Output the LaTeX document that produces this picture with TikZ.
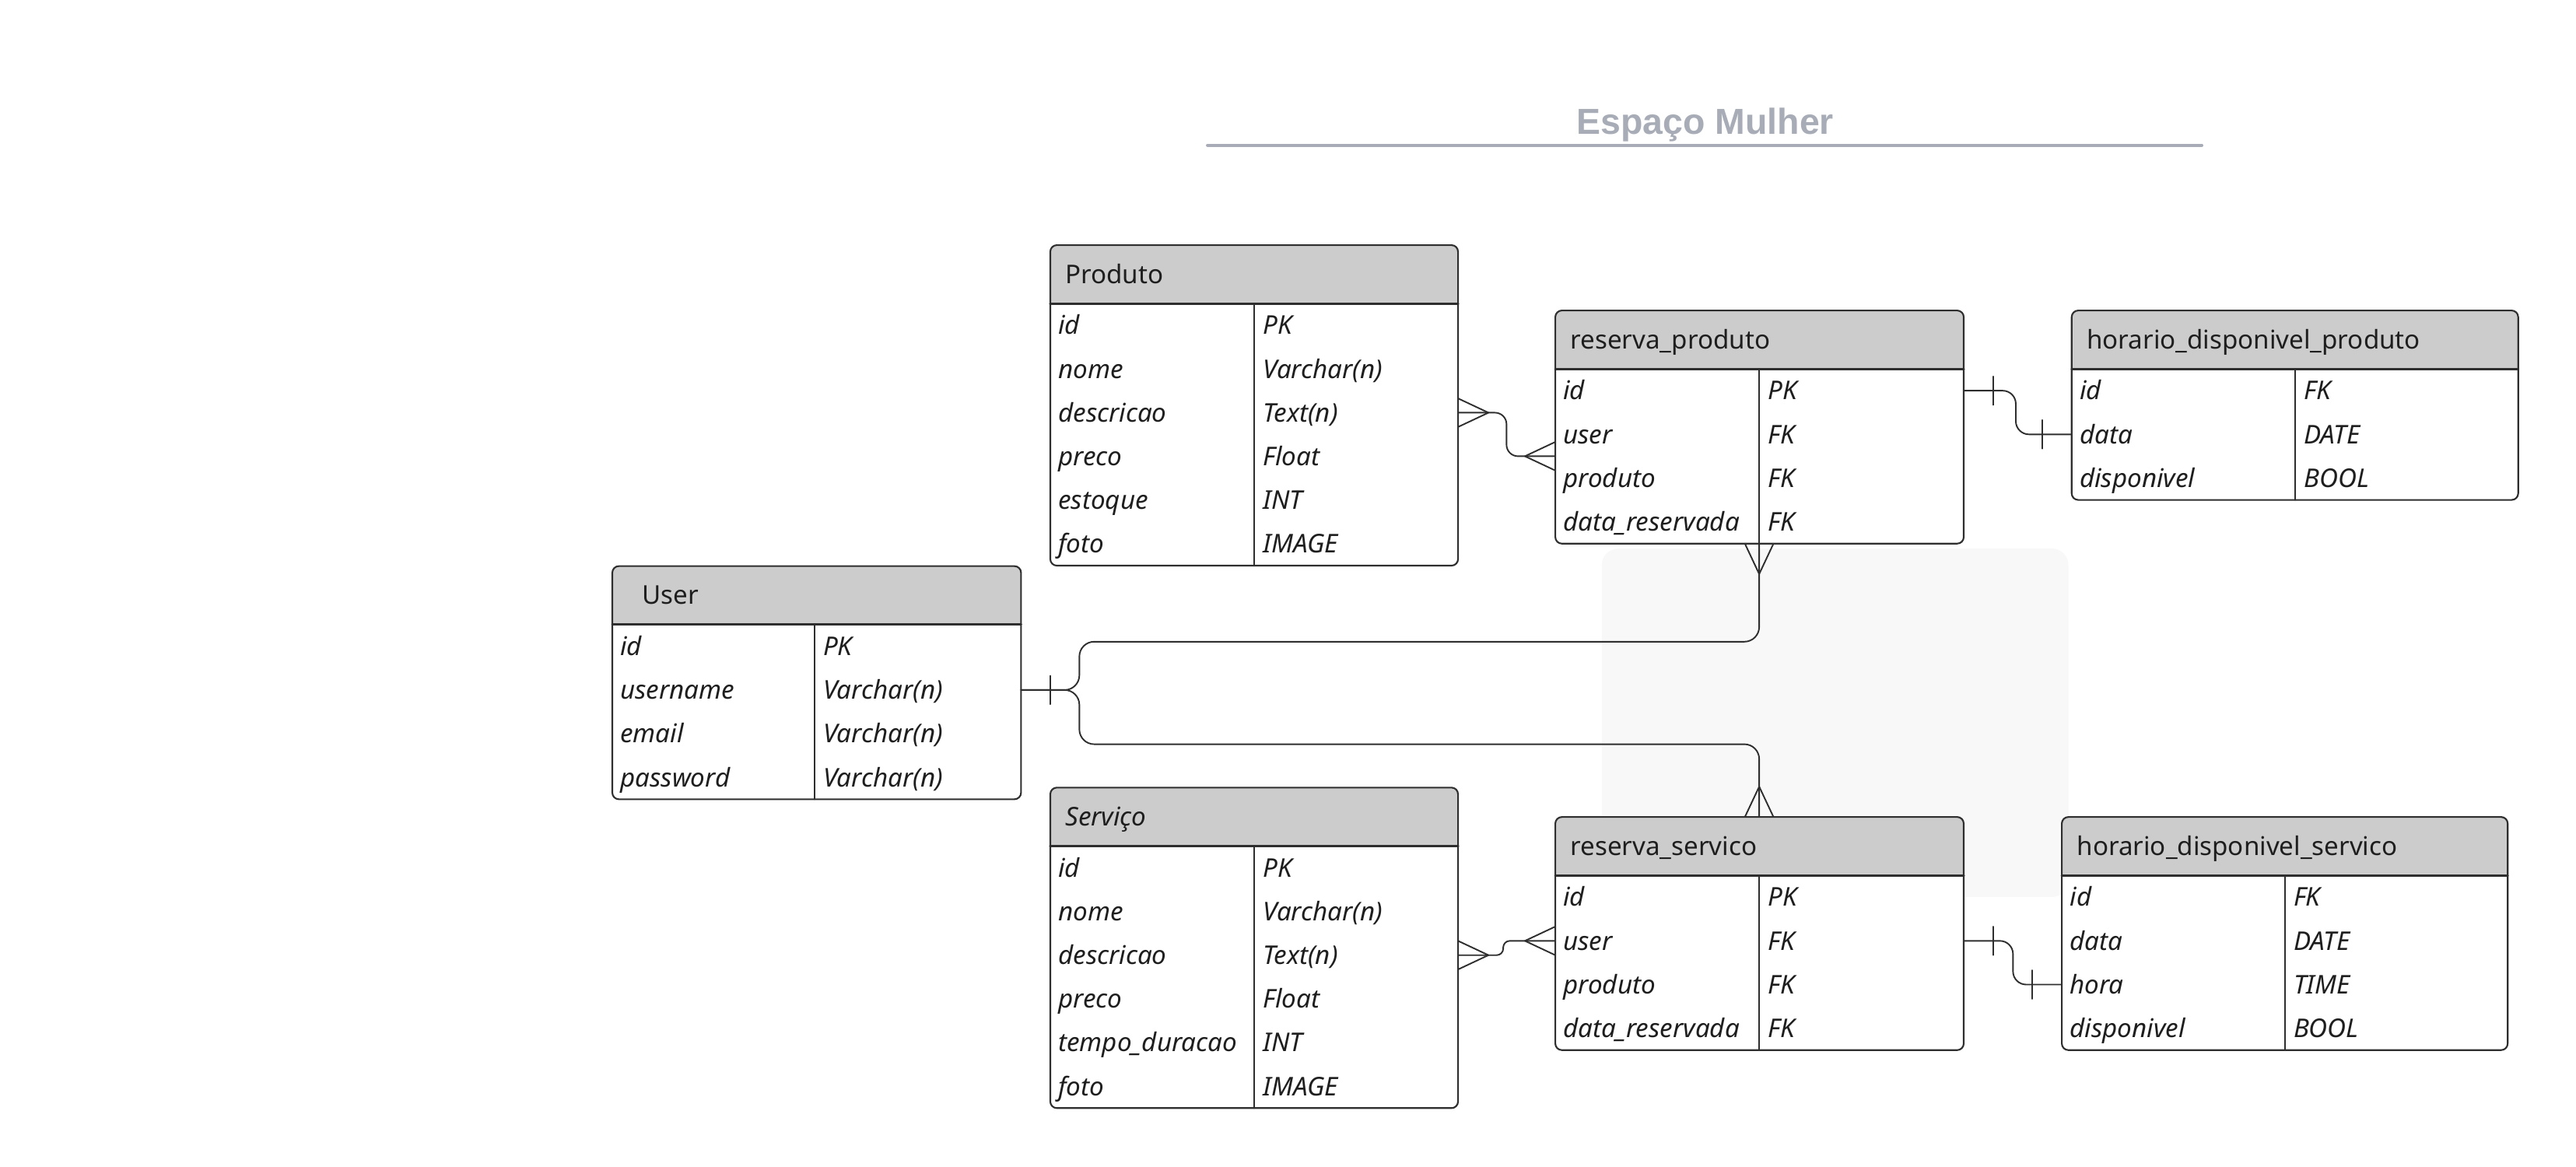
\documentclass[tikz,border=0pt]{standalone}
\usepackage{fontspec}
\setmainfont{Noto Sans}
\newfontfamily\titlefont{Liberation Sans}
\usetikzlibrary{calc}

\definecolor{headgray}{HTML}{CCCCCC}
\definecolor{edgegray}{HTML}{2E2E2E}
\definecolor{titlegray}{HTML}{A7ACB6}
\definecolor{inkgray}{HTML}{1E1E1E}
\definecolor{zonegray}{HTML}{F8F8F8}

% [title indent] name, left, top, right, split, number of rows, title, field/type rows
\newcommand{\ertable}[9][9]{%
  \coordinate (#2-nw) at (#3,#4);
  \coordinate (#2-se) at (#5,#4+\hdh+#7*\rwh);
  \coordinate (#2-st) at (#6,#4);
  \coordinate (#2-sb) at (#6,#4+\hdh+#7*\rwh);
  \fill[white, rounded corners=4] (#2-nw) rectangle (#2-se);
  \begin{scope}
    \clip[rounded corners=4] (#2-nw) rectangle (#2-se);
    \fill[headgray] (#2-nw) rectangle (#5,#4+\hdh);
  \end{scope}
  \draw[tabline] (#6,#4+\hdh) -- (#2-sb);
  \draw[tabline, line width=1.4pt] (#3,#4+\hdh) -- (#5,#4+\hdh);
  \draw[tabline, rounded corners=4] (#2-nw) rectangle (#2-se);
  \node[headtext] (#2) at (#3+#1,#4+\hdh/2) {#8};
  \foreach \f/\t [count=\i] in {#9}{
    \node[fieldtext] (#2-\i) at (#3+4.7,#4+\hdh+\i*\rwh-\rwh/2) {\f};
    \node[fieldtext] (#2-\i-t) at (#6+5.2,#4+\hdh+\i*\rwh-\rwh/2) {\t};
  }
}

\begin{document}
\begin{tikzpicture}[x=1pt, y=-1pt, line join=round, line cap=round,
  tabline/.style={edgegray, line width=1pt},
  conn/.style={edgegray, line width=0.9pt},
  headtext/.style={anchor=west, inner sep=0pt, text height=11.2pt, text depth=0pt, text=inkgray, font=\fontsize{15.7}{19}\selectfont},
  fieldtext/.style={anchor=west, inner sep=0pt, text height=11.2pt, text depth=0pt, text=inkgray, font=\fontsize{15.7}{19}\selectfont\itshape},
  titletext/.style={anchor=base, inner sep=0pt, text=titlegray, font=\titlefont\fontsize{22}{26}\selectfont\bfseries},
  crowmany/.pic={\draw[conn] (0,-8.7) -- (18.5,0) -- (0,8.7);},
  crowone/.pic={\draw[conn] (18,-8.7) -- (18,8.7);}]
  \def\hdh{35.5}
  \def\rwh{26.6}
  \useasboundingbox (0,0) rectangle (1568,710);

  \node[titletext] (title) at (1038,81.8) {Espaço Mulher};
  \draw[titlegray, line width=1.9pt] (735,88.4) -- (1340.2,88.4);

  \fill[zonegray, rounded corners=10] (975,333.9) rectangle (1259,546);

  \ertable{prod}{639.3}{149.2}{887.5}{763.4}{6}{Produto}
    {id/PK, nome/Varchar(n), descricao/Text(n), preco/Float, estoque/INT, foto/IMAGE}
  \ertable{rprod}{946.7}{189}{1195.3}{1070.8}{4}{reserva\_produto}
    {id/PK, user/FK, produto/FK, data\_reservada/FK}
  \ertable{hprod}{1261}{189}{1532.8}{1397}{3}{horario\_disponivel\_produto}
    {id/FK, data/DATE, disponivel/BOOL}
  \ertable[18]{user}{372.7}{344.6}{621.5}{495.7}{4}{User}
    {id/PK, username/Varchar(n), email/Varchar(n), password/Varchar(n)}
  \ertable{serv}{639.3}{479.4}{887.5}{763.4}{6}{\itshape Serviço}
    {id/PK, nome/Varchar(n), descricao/Text(n), preco/Float, tempo\_duracao/INT, foto/IMAGE}
  \ertable{rserv}{946.7}{497.3}{1195.3}{1070.8}{4}{reserva\_servico}
    {id/PK, user/FK, produto/FK, data\_reservada/FK}
  \ertable{hserv}{1255}{497.3}{1526.4}{1390.7}{4}{horario\_disponivel\_servico}
    {id/FK, data/DATE, hora/TIME, disponivel/BOOL}

  % Produto -- reserva_produto
  \coordinate (a1) at (prod-3 -| prod-se);
  \coordinate (am) at ($(rprod-2)!0.5!(rprod-3)$);
  \coordinate (a2) at (am -| rprod-nw);
  \draw[conn, rounded corners=7] (a1) -- ++(29.5,0) |- (a2);
  \pic at (a1) {crowmany};
  \pic[rotate=180] at (a2) {crowmany};

  % reserva_produto -- horario_disponivel_produto
  \coordinate (b1) at (rprod-1 -| rprod-se);
  \coordinate (b2) at (hprod-2 -| hprod-nw);
  \draw[conn, rounded corners=8] (b1) -- ++(31.7,0) |- (b2);
  \pic at (b1) {crowone};
  \pic[rotate=180] at (b2) {crowone};

  % User -- reservas
  \coordinate (c0) at (user-2 -| user-se);
  \draw[conn, rounded corners=9] (c0) -- ++(35.5,0) |- ($(rprod-sb)+(0,59.7)$) -- (rprod-sb);
  \draw[conn, rounded corners=9] (c0) -- ++(35.5,0) |- ($(rserv-st)+(0,-44.3)$) -- (rserv-st);
  \pic at (c0) {crowone};
  \pic[rotate=-90] at (rprod-sb) {crowmany};
  \pic[rotate=90] at (rserv-st) {crowmany};

  % Servico -- reserva_servico
  \coordinate (d1) at (serv-3 -| serv-se);
  \coordinate (d2) at (rserv-2 -| rserv-nw);
  \draw[conn, rounded corners=4] (d1) -- ++(27.5,0) |- (d2);
  \pic at (d1) {crowmany};
  \pic[rotate=180] at (d2) {crowmany};

  % reserva_servico -- horario_disponivel_servico
  \coordinate (e1) at (rserv-2 -| rserv-se);
  \coordinate (e2) at (hserv-3 -| hserv-nw);
  \draw[conn, rounded corners=8] (e1) -- ++(30,0) |- (e2);
  \pic at (e1) {crowone};
  \pic[rotate=180] at (e2) {crowone};
\end{tikzpicture}
\end{document}
